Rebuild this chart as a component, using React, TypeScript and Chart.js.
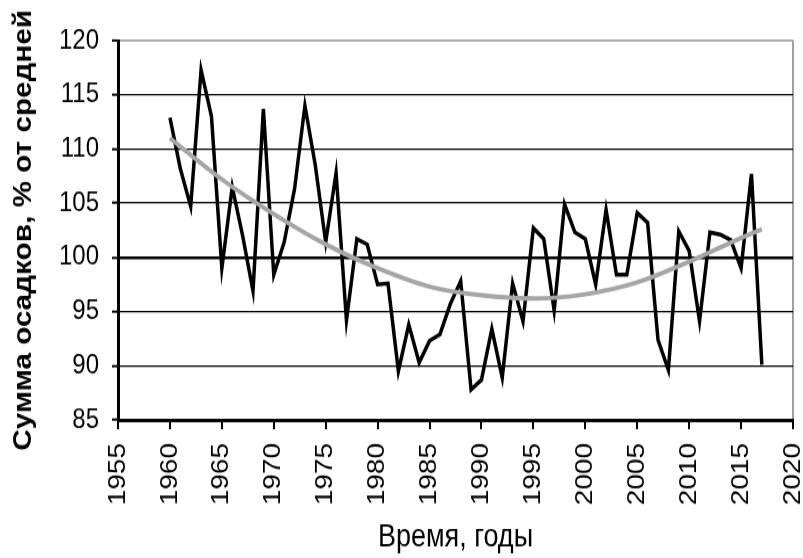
import React, { useEffect, useRef } from 'react';
import { Chart, registerables } from 'chart.js';

Chart.register(...registerables);

const years = [
  1960, 1961, 1962, 1963, 1964, 1965, 1966, 1967, 1968, 1969,
  1970, 1971, 1972, 1973, 1974, 1975, 1976, 1977, 1978, 1979,
  1980, 1981, 1982, 1983, 1984, 1985, 1986, 1987, 1988, 1989,
  1990, 1991, 1992, 1993, 1994, 1995, 1996, 1997, 1998, 1999,
  2000, 2001, 2002, 2003, 2004, 2005, 2006, 2007, 2008, 2009,
  2010, 2011, 2012, 2013, 2014, 2015, 2016, 2017,
];

const precipitation = [
  112.9, 108.2, 104.7, 117.3, 113.0, 99.0, 106.5, 102.0, 96.9, 113.7,
  98.4, 101.4, 106.3, 114.0, 108.5, 101.4, 107.8, 94.2, 101.7, 101.2,
  97.5, 97.6, 89.5, 93.8, 90.3, 92.3, 92.9, 95.7, 97.8, 87.8,
  88.7, 93.4, 88.9, 97.6, 94.1, 102.7, 101.7, 95.1, 104.9, 102.3,
  101.7, 97.5, 104.4, 98.4, 98.4, 104.1, 103.2, 92.4, 89.6, 102.4,
  100.6, 94.1, 102.3, 102.1, 101.6, 99.0, 107.7, 90.1,
];

const trendYears = [1960, 1965, 1970, 1975, 1980, 1985, 1990, 1995, 2000, 2005, 2010, 2015, 2017];
const trendValues = [111.0, 107.2, 104.0, 101.2, 99.0, 97.3, 96.5, 96.2, 96.6, 97.7, 99.6, 101.8, 102.6];

const xTickMin = 1955;
const xTickMax = 2020;
const yTickMin = 85;
const yTickMax = 120;

const yTitle = 'Сумма осадков, % от средней';
const xTitle = 'Время, годы';

const FONT = "'Liberation Sans', Arial, sans-serif";
const STRETCH = 1.16;
const CANVAS_W = 803;
const CANVAS_H = 481;

export default function App() {
  const canvasRef = useRef<HTMLCanvasElement | null>(null);

  useEffect(() => {
    const canvas = canvasRef.current;
    if (!canvas) return;

    const yTitlePlugin = {
      id: 'yTitlePlugin',
      afterDraw(chart: any) {
        const ctx = chart.ctx;
        const area = chart.chartArea;
        ctx.save();
        ctx.translate(23.5, (area.top + area.bottom) / 2);
        ctx.rotate(-Math.PI / 2);
        ctx.font = `bold 26px ${FONT}`;
        const w = ctx.measureText(yTitle).width;
        ctx.scale(380 / w, 1);
        ctx.fillStyle = '#000';
        ctx.textAlign = 'center';
        ctx.textBaseline = 'middle';
        ctx.fillText(yTitle, 0, 0);
        ctx.restore();
      },
    };

    const chart = new Chart(canvas, {
      type: 'line',
      data: {
        datasets: [
          {
            label: 'precip',
            data: years.map((y, i) => ({ x: y, y: precipitation[i] })),
            borderColor: '#000',
            borderWidth: 3.5,
            pointRadius: 0,
            tension: 0,
            order: 1,
          },
          {
            label: 'trend',
            data: trendYears.map((y, i) => ({ x: y, y: trendValues[i] })),
            borderColor: '#a6a6a6',
            borderWidth: 4,
            pointRadius: 0,
            cubicInterpolationMode: 'monotone',
            order: 0,
          },
        ],
      },
      options: {
        animation: false,
        responsive: false,
        layout: { padding: { top: 35, right: 10, left: 0, bottom: 0 } },
        plugins: {
          legend: { display: false },
          tooltip: { enabled: false },
        },
        scales: {
          x: {
            type: 'linear',
            min: xTickMin,
            max: xTickMax,
            ticks: {
              stepSize: 5,
              minRotation: 90,
              maxRotation: 90,
              padding: 12,
              color: '#000',
              font: { family: FONT, size: 24 },
              callback: (v: any) => String(v),
            },
            grid: {
              color: (ctx: any) => (ctx.tick && ctx.tick.value === xTickMax ? '#a0a0a0' : 'rgba(0,0,0,0)'),
              lineWidth: 2,
              tickColor: '#000',
              tickLength: 8,
              tickWidth: 2,
            },
            border: { color: '#000', width: 3 },
            title: {
              display: true,
              text: xTitle,
              color: '#000',
              font: { family: FONT, size: 27 },
              padding: { top: 0, bottom: 1 },
            },
            afterFit: (scale: any) => {
              scale.height = 119;
              scale.paddingLeft = 0;
              scale.paddingRight = 0;
            },
          },
          y: {
            type: 'linear',
            min: yTickMin,
            max: yTickMax,
            ticks: {
              stepSize: 5,
              padding: 13,
              color: '#000',
              font: { family: FONT, size: 24 },
            },
            grid: {
              color: (ctx: any) => (ctx.tick && ctx.tick.value === yTickMax ? '#a0a0a0' : '#000'),
              lineWidth: (ctx: any) => (ctx.tick && ctx.tick.value === 100 ? 2.6 : ctx.tick && ctx.tick.value === yTickMax ? 1.8 : 1.3),
              tickColor: '#000',
              tickLength: 6,
              tickWidth: 2,
            },
            border: { color: '#000', width: 3 },
            afterFit: (scale: any) => {
              scale.width = 118;
              scale.paddingTop = 0;
              scale.paddingBottom = 0;
            },
          },
        },
      },
      plugins: [yTitlePlugin],
    } as any);

    return () => chart.destroy();
  }, []);

  return (
    <div style={{ position: 'absolute', left: 0, top: 0, width: 803, height: 558, overflow: 'hidden', background: '#fff' }}>
      <div style={{ width: CANVAS_W, height: CANVAS_H, transform: `scaleY(${STRETCH})`, transformOrigin: '0 0' }}>
        <canvas ref={canvasRef} width={CANVAS_W} height={CANVAS_H} style={{ display: 'block' }} />
      </div>
    </div>
  );
}
